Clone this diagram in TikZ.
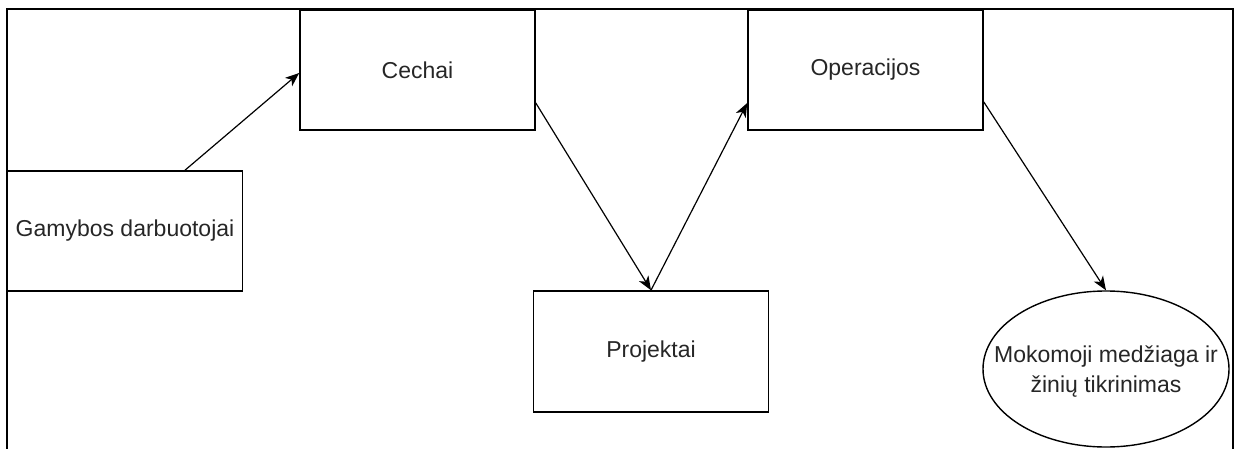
\documentclass[tikz,border=0pt]{standalone}
\usepackage{fontspec}
\setmainfont{Liberation Sans}
\usetikzlibrary{arrows.meta,shapes.geometric}
\definecolor{inkgray}{HTML}{262626}
\begin{document}
\begin{tikzpicture}[x=1pt,y=-1pt,
  label text/.style={font=\fontsize{23}{30}\selectfont,text=inkgray},
  box/.style={draw=black,line width=1.6pt,rectangle,inner sep=0pt,
    minimum width=235pt,minimum height=120pt,label text},
  oval/.style={draw=black,line width=1.4pt,ellipse,inner sep=0pt,
    minimum width=246pt,minimum height=156pt},
  arr/.style={draw=black,line width=1.2pt,
    -{Stealth[length=14pt,width=11pt,inset=4pt]}}]
  \useasboundingbox (0,0) rectangle (1236,449);
  % outer frame, open at the bottom
  \draw[line width=1.8pt] (7,449) -- (7,9) -- (1233,9) -- (1233,449);
  % boxes
  \node[box] (g) at (125,231) {Gamybos darbuotojai};
  \node[box] (c) at (417.5,70) {Cechai};
  \node[box] (o) at (865.5,70) {Operacijos};
  \node[box,minimum height=121pt] (p) at (651,351.5) {Projektai};
  \node[oval] (m) at (1106,369) {};
  \node[label text,align=center,inner sep=0pt] (mt) at ([yshift=-3pt]m.center)
    {Mokomoji medžiaga ir\\žinių tikrinimas};
  % connectors
  \draw[arr] ([xshift=60pt]g.north) -- ([yshift=-3pt]c.west);
  \draw[arr] ([yshift=-33pt]c.east) -- (p.north);
  \draw[arr] (p.north) -- ([yshift=-33pt]o.west);
  \draw[arr] ([yshift=-32pt]o.east) -- (m.north);
\end{tikzpicture}
\end{document}
